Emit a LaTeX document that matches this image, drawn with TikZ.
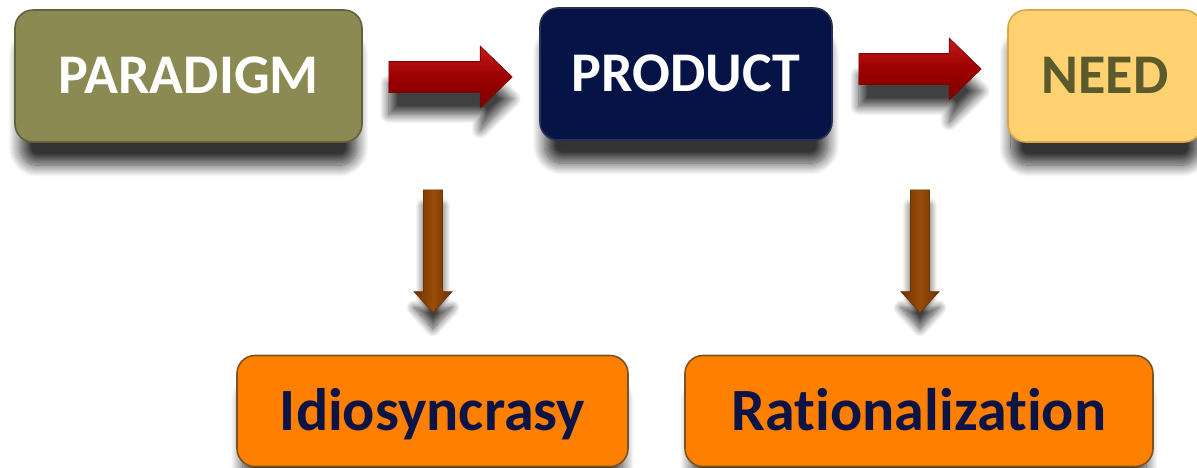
\documentclass[tikz,border=0pt]{standalone}
\usepackage{fontspec}
\setsansfont{Carlito}[Ligatures={NoCommon}]
\usetikzlibrary{calc,shadows.blur}
\definecolor{parFill}{HTML}{8B8A53}
\definecolor{parEdge}{HTML}{63623A}
\definecolor{prodFill}{HTML}{061347}
\definecolor{prodEdge}{HTML}{2A3050}
\definecolor{needFill}{HTML}{FFD170}
\definecolor{needEdge}{HTML}{D9A848}
\definecolor{needText}{HTML}{5B5A2C}
\definecolor{orFill}{HTML}{FF7F00}
\definecolor{orEdge}{HTML}{7A5420}
\definecolor{orText}{HTML}{0C1445}
\definecolor{redA}{HTML}{C21A1A}
\definecolor{redB}{HTML}{9C0000}
\definecolor{redC}{HTML}{7A0000}
\definecolor{brA}{HTML}{6E3300}
\definecolor{brB}{HTML}{9A4C08}
\newcommand\harrowshape[2]{($(#1)+(0,-15.5)$) -- ($(#2)+(-32,-15.5)$) -- ($(#2)+(-32,-31)$) -- (#2) -- ($(#2)+(-32,31)$) -- ($(#2)+(-32,15.5)$) -- ($(#1)+(0,15.5)$) -- cycle}
\newcommand\varrowshape[2]{($(#1)+(-9.5,0)$) -- ($(#2)+(-9.5,-21)$) -- ($(#2)+(-19,-21)$) -- (#2) -- ($(#2)+(19,-21)$) -- ($(#2)+(9.5,-21)$) -- ($(#1)+(9.5,0)$) -- cycle}
\begin{document}
\begin{tikzpicture}[x=1pt,y=-1pt,
  shad/.style={blur shadow={shadow xshift=0pt, shadow yshift=-26pt, shadow scale=0.97, shadow blur radius=12pt, shadow opacity=80, shadow blur steps=16}},
  box/.style={rectangle, rounded corners=18pt, inner sep=0pt, line width=1.6pt, shad},
  topbox/.style={box, font=\sffamily\bfseries\fontsize{56}{60}\selectfont, text height=35pt, text depth=0pt, minimum height=132pt},
  botbox/.style={box, fill=orFill, draw=orEdge, text=orText, font=\sffamily\bfseries\fontsize{60}{66}\selectfont, text height=38pt, text depth=0pt, minimum height=111pt},
  redarrow/.style={top color=redA, bottom color=redC, middle color=redB, draw=redC, line width=0.6pt, line join=miter, blur shadow={shadow xshift=0pt, shadow yshift=-22pt, shadow blur radius=9pt, shadow opacity=75, shadow blur steps=14}},
  brownarrow/.style={left color=brA, right color=brA, middle color=brB, draw=brA, line width=0.6pt, line join=miter, blur shadow={shadow xshift=0pt, shadow yshift=-16pt, shadow blur radius=8pt, shadow opacity=75, shadow blur steps=14}}
]
\useasboundingbox (0,0) rectangle (1197,467);
\node[topbox, fill=parFill, draw=parEdge, text=white, minimum width=347pt] (par) at (188.5,76) {PARADIGM};
\node[topbox, fill=prodFill, draw=prodEdge, text=white, minimum width=292pt] (prod) at (686,74) {PRODUCT};
\node[topbox, fill=needFill, draw=needEdge, text=needText, minimum width=194pt] (need) at (1105,76) {NEED};
\node[botbox, minimum width=391pt] (idio) at (432.5,411) {Idiosyncrasy};
\node[botbox, minimum width=468pt] (rat) at (919,411) {Rationalization};
\coordinate (a1s) at ($(par.east)+(26,1)$);
\coordinate (a1e) at ($(prod.west)+(-27,3)$);
\coordinate (a2s) at ($(prod.east)+(26,-5)$);
\coordinate (a2e) at ($(need.west)+(-26,-7)$);
\path[redarrow] \harrowshape{a1s}{a1e};
\path[redarrow] \harrowshape{a2s}{a2e};
\coordinate (d1s) at ($(idio.north |- par.south)+(0.5,47)$);
\coordinate (d1e) at ($(idio.north)+(0.5,-42)$);
\coordinate (d2s) at ($(rat.north |- par.south)+(1,47)$);
\coordinate (d2e) at ($(rat.north)+(1,-42)$);
\path[brownarrow] \varrowshape{d1s}{d1e};
\path[brownarrow] \varrowshape{d2s}{d2e};
\end{tikzpicture}
\end{document}
